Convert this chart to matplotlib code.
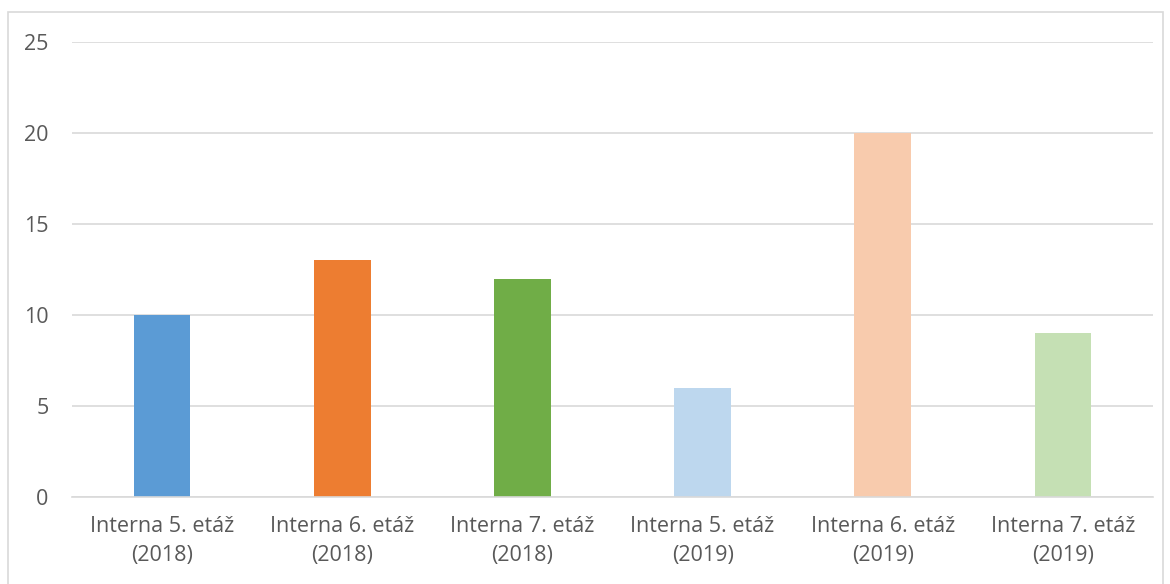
import matplotlib.pyplot as plt
from matplotlib.patches import Rectangle

labels = [
    "Interna 5. etáž\n(2018)",
    "Interna 6. etáž\n(2018)",
    "Interna 7. etáž\n(2018)",
    "Interna 5. etáž\n(2019)",
    "Interna 6. etáž\n(2019)",
    "Interna 7. etáž\n(2019)",
]
values = [10, 13, 12, 6, 20, 9]
colors = ["#5B9BD5", "#ED7D31", "#70AD47", "#BDD7EE", "#F8CBAD", "#C5E0B4"]

plt.rcParams["font.family"] = ["Open Sans", "DejaVu Sans"]

fig = plt.figure(figsize=(11.7, 5.84), dpi=100)
ax = fig.add_axes([72 / 1170, 87 / 584, 1081 / 1170, 455 / 584])

x = range(len(values))
ax.bar(x, values, width=0.315, color=colors, zorder=3)

ax.set_xlim(-0.5, len(values) - 0.5)
ax.set_ylim(0, 25)
ax.set_yticks([0, 5, 10, 15, 20, 25])
ax.set_xticks(list(x))
ax.set_xticklabels(labels, linespacing=1.5)

ax.grid(axis="y", color="#D9D9D9", linewidth=1.2, zorder=0)
for side in ["top", "right", "left"]:
    ax.spines[side].set_visible(False)
ax.spines["bottom"].set_color("#D9D9D9")
ax.spines["bottom"].set_linewidth(1.2)
ax.spines["bottom"].set_zorder(4)

ax.tick_params(axis="both", length=0, colors="#595959", labelsize=15.5)
ax.tick_params(axis="y", pad=17)
ax.tick_params(axis="x", pad=14)

# outer chart frame
fig.patches.append(Rectangle((8 / 1170, -0.05), 1155 / 1170, (584 - 12) / 584 + 0.05,
                             transform=fig.transFigure, fill=False,
                             edgecolor="#D9D9D9", linewidth=1.2))

fig.savefig("out.png", dpi=100)
